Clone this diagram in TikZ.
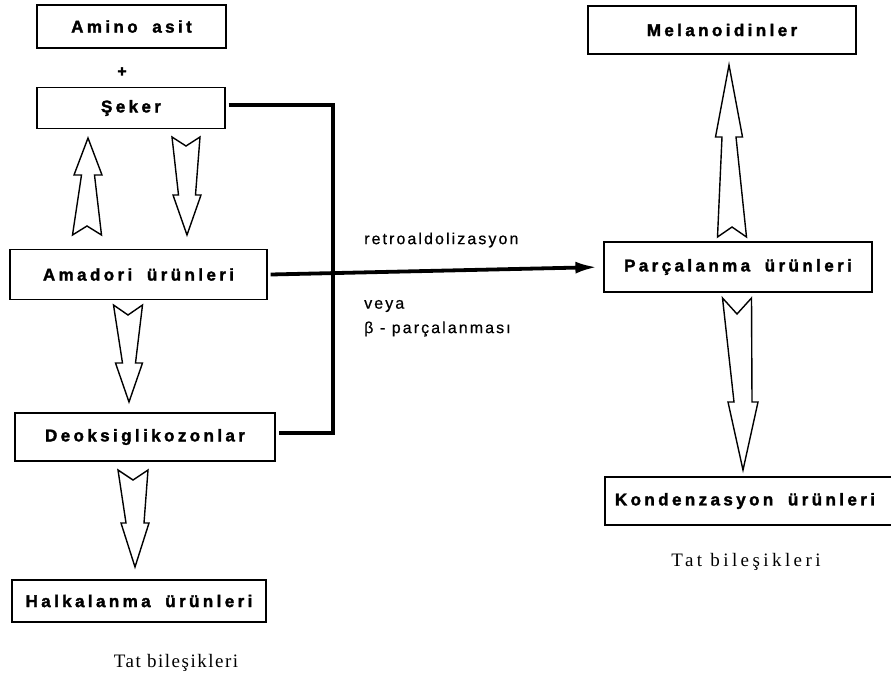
\documentclass[tikz,border=0pt]{standalone}
\usepackage{fontspec}
\setmainfont{Liberation Sans}
\newfontfamily\boxfont[LetterSpace=20, WordSpace=1.8, BoldFeatures={FakeBold=1.8}]{Liberation Sans}
\newfontfamily\labfont[LetterSpace=13, FakeBold=0.6]{Liberation Sans}
\newfontfamily\capfontL[LetterSpace=8]{Liberation Serif}
\newfontfamily\capfontR[LetterSpace=18]{Liberation Serif}
\usetikzlibrary{arrows.meta}
\newcommand\blkarrow[9]{\draw[barrow] (#1-#3,#2) -- (#1,#4) -- (#1+#3,#2) -- (#8+#6,#5) -- (#8+#7,#5) -- (#8,#9) -- (#8-#7,#5) -- (#8-#6,#5) -- cycle;}
\begin{document}
\begin{tikzpicture}[x=1pt,y=-1pt,
  box/.style={draw, line width=1.2pt, rectangle, inner sep=0pt, font=\boxfont\bfseries\fontsize{17}{20}\selectfont},
  barrow/.style={draw, line width=1.4pt, fill=white, line join=miter},
  conn/.style={line width=3.8pt},
  lab/.style={anchor=west, inner sep=0pt, font=\labfont\fontsize{16}{19}\selectfont},
  capL/.style={inner sep=0pt, font=\capfontL\fontsize{19}{22}\selectfont},
  capR/.style={inner sep=0pt, font=\capfontR\fontsize{19}{22}\selectfont}]
\useasboundingbox (0,0) rectangle (891,691);
\fill[white] (0,0) rectangle (891,691);
% boxes
\node[box, minimum width=189, minimum height=43] (amino) at (131.5,26.5) {Amino asit};
\node[inner sep=0pt, font=\boxfont\bfseries\fontsize{16}{18}\selectfont] (plus) at (122,72) {+};
\node[box, minimum width=188, minimum height=41] (seker) at (131,108) {Şeker};
\node[box, minimum width=257, minimum height=50] (amadori) at (138.5,274.5) {Amadori ürünleri};
\node[box, minimum width=260, minimum height=48] (deoksi) at (145,437) {Deoksiglikozonlar};
\node[box, minimum width=254, minimum height=42] (halk) at (139,601) {Halkalanma ürünleri};
\node[box, minimum width=268, minimum height=48] (melan) at (722,30) {Melanoidinler};
\node[box, minimum width=268, minimum height=50] (parcal) at (738,267) {Parçalanma ürünleri};
\node[box, minimum height=48, inner xsep=10pt] (konden) at (755,501) {\makebox[280pt][l]{Kondenzasyon ürünleri}};
% captions
\node[capL] (tatL) at (176,663) {Tat bileşikleri};
\node[capR] (tatR) at (746,562) {Tat bileşikleri};
% labels
\node[lab] (retro) at (364,240) {retroaldolizasyon};
\node[lab] (veya) at (364,306) {veya};
\node[lab] (beta) at (364,329) {β - parçalanması};
% thick connectors
\coordinate (j1) at (333,105);
\coordinate (j2) at (333,433);
\draw[conn, line join=miter] ([xshift=3pt]j1 -| seker.east) -- (j1) -- (j2) -- ([xshift=3pt]j2 -| deoksi.east);
\draw[conn, -{Latex[length=22pt,width=12pt]}, shorten >=6pt] ([xshift=3pt]amadori.east) -- (parcal.west);
% block arrows: xt, yt, wt, yn, yh, ws, wh, xp, yp
\blkarrow{87}{235}{14.5}{226}{175}{6.5}{14}{88}{138}
\blkarrow{186}{137}{14}{146}{195}{8.5}{14}{187}{235}
\blkarrow{128}{305}{14.5}{315}{363}{6.5}{13.5}{129}{402}
\blkarrow{133}{470}{15}{480}{523}{9}{14}{135}{567}
\blkarrow{732}{237}{14.5}{227}{137}{7}{13.5}{729}{65}
\blkarrow{737}{298}{14.5}{314}{402}{9}{15}{743}{470}
\end{tikzpicture}
\end{document}
